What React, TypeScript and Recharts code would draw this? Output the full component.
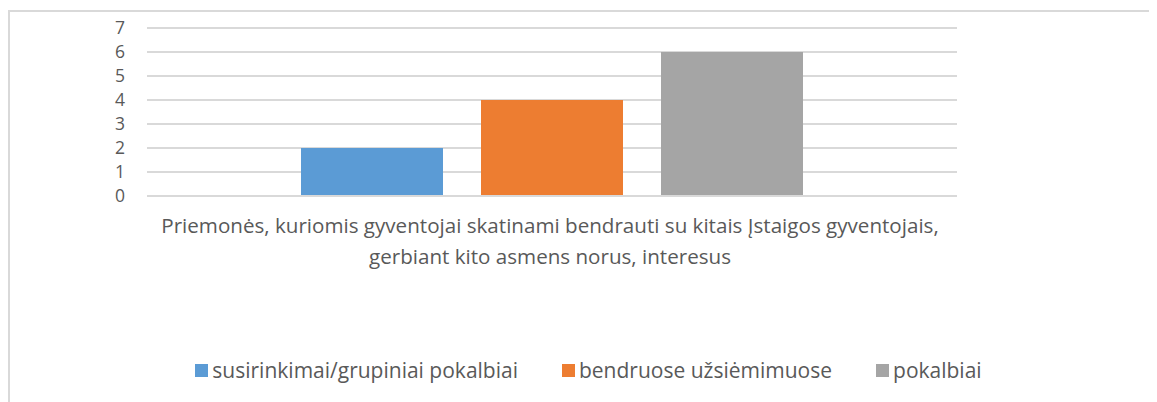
import React from "react";
import { BarChart, Bar, XAxis, YAxis, CartesianGrid, Legend } from "recharts";

const categories = [
  "Priemonės, kuriomis gyventojai skatinami bendrauti su kitais Įstaigos gyventojais, gerbiant kito asmens norus, interesus",
];
// the category label wraps onto two lines in the original
const categoryLines = [
  [
    "Priemonės, kuriomis gyventojai skatinami bendrauti su kitais Įstaigos gyventojais,",
    "gerbiant kito asmens norus, interesus",
  ],
];
const seriesNames = ["susirinkimai/grupiniai pokalbiai", "bendruose užsiėmimuose", "pokalbiai"];
const susirinkimai = [2];
const bendruose = [4];
const pokalbiai = [6];
const yTicks = [0, 1, 2, 3, 4, 5, 6, 7];

const COLORS = ["#5b9bd5", "#ed7d31", "#a5a5a5"];
const FONT = "'Open Sans', sans-serif";
const TEXT = "#595959";
const GRID = "#d9d9d9";

const data = categories.map((name, i) => ({
  name,
  s0: susirinkimai[i],
  s1: bendruose[i],
  s2: pokalbiai[i],
}));

const CategoryTick = (props: any) => {
  const { x, y, index } = props;
  const lines = categoryLines[index] ?? [props.payload.value];
  return (
    <text x={x - 2} y={y} textAnchor="middle" fill={TEXT} fontSize={20.6} fontFamily={FONT}>
      {lines.map((l: string, i: number) => (
        <tspan key={i} x={x - 2} dy={i === 0 ? 29 : 31}>
          {l}
        </tspan>
      ))}
    </text>
  );
};

const LegendContent = () => (
  <div
    style={{
      display: "flex",
      justifyContent: "center",
      alignItems: "center",
      fontFamily: FONT,
      fontSize: 21,
      color: TEXT,
      whiteSpace: "nowrap",
    }}
  >
    {seriesNames.map((name, i) => (
      <div key={name} style={{ display: "flex", alignItems: "center", marginRight: i < seriesNames.length - 1 ? 44 : 0 }}>
        <span style={{ width: 13, height: 13, background: COLORS[i], marginRight: 4, display: "inline-block" }} />
        <span>{name}</span>
      </div>
    ))}
  </div>
);

export default function App() {
  return (
    <div style={{ width: 1149, height: 394, overflow: "hidden", position: "relative" }}>
      <div
        style={{
          position: "absolute",
          left: 0,
          top: 2,
          width: 1170,
          height: 420,
          border: `2px solid ${GRID}`,
          boxSizing: "border-box",
        }}
      />
      <div style={{ position: "absolute", left: 0, top: 0 }}>
        <BarChart
          width={1149}
          height={394}
          data={data}
          margin={{ top: 20, right: 200, left: 0, bottom: 146 }}
          barSize={142}
          barGap={38}
        >
          <CartesianGrid vertical={false} stroke={GRID} strokeWidth={2} />
          <XAxis
            dataKey="name"
            axisLine={{ stroke: GRID, strokeWidth: 2 }}
            tickLine={false}
            height={60}
            interval={0}
            tick={<CategoryTick />}
          />
          <YAxis
            domain={[0, 7]}
            ticks={yTicks}
            interval={0}
            width={139}
            axisLine={false}
            tickLine={false}
            tickMargin={16}
            tick={{ fontSize: 17.5, fill: TEXT, fontFamily: FONT }}
          />
          <Legend
            layout="horizontal"
            verticalAlign="middle"
            align="center"
            content={<LegendContent />}
            wrapperStyle={{ top: 348, left: 0, width: 1161 }}
          />
          <Bar dataKey="s0" name={seriesNames[0]} fill={COLORS[0]} isAnimationActive={false} />
          <Bar dataKey="s1" name={seriesNames[1]} fill={COLORS[1]} isAnimationActive={false} />
          <Bar dataKey="s2" name={seriesNames[2]} fill={COLORS[2]} isAnimationActive={false} />
        </BarChart>
      </div>
    </div>
  );
}
